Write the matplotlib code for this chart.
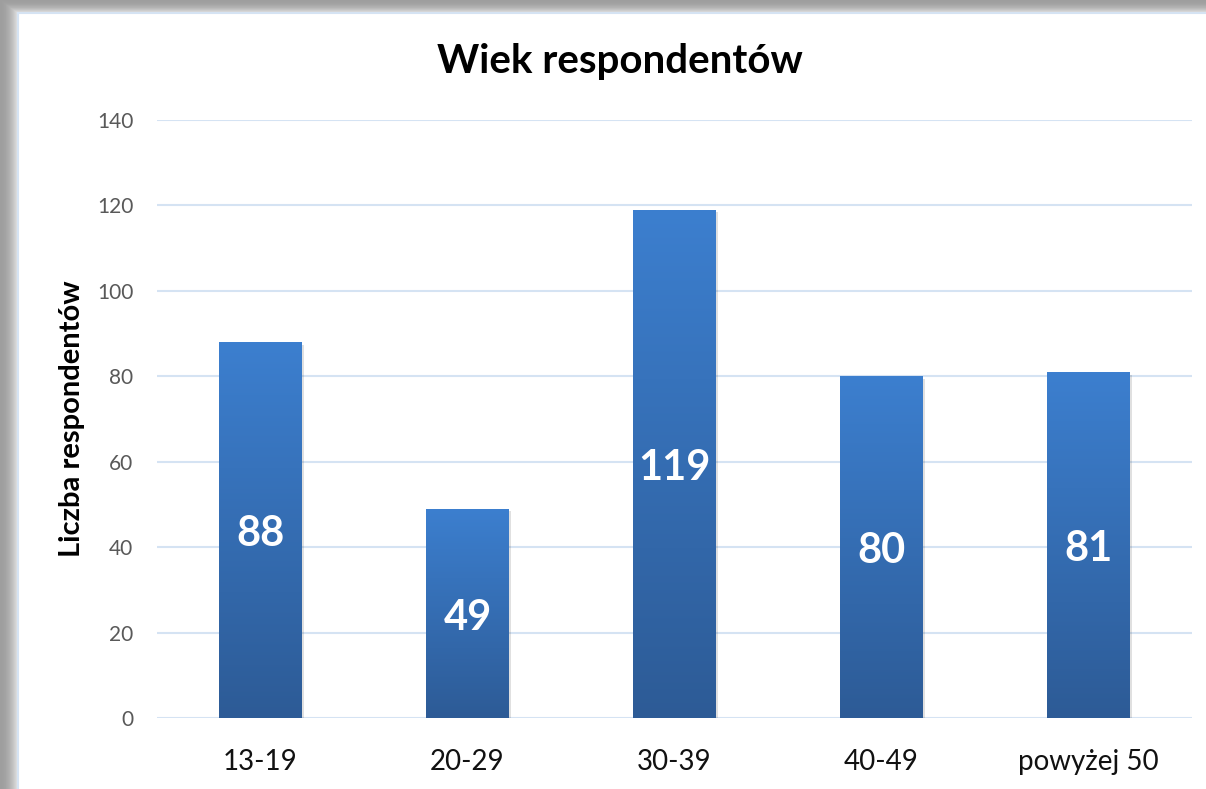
import matplotlib.pyplot as plt
import numpy as np
from matplotlib.colors import LinearSegmentedColormap

plt.rcParams['font.family'] = ['Lato', 'DejaVu Sans']

categories = ['13-19', '20-29', '30-39', '40-49', 'powyżej 50']
values = [88, 49, 119, 80, 81]
yticks = [0, 20, 40, 60, 80, 100, 120, 140]

W, H = 1206, 789
fig = plt.figure(figsize=(W / 100, H / 100), dpi=100)

# drop shadow along left and top edge of the chart panel
bg = fig.add_axes([0, 0, 1, 1])
bg.set_xlim(0, W)
bg.set_ylim(H, 0)
bg.axis('off')
img = np.ones((H, W))
sx, sy = 18, 13
for i in range(sx):
    img[:, i] = np.minimum(img[:, i], 0.62 + 0.3 * (i / sx) ** 2)
for j in range(sy):
    img[j, :] = np.minimum(img[j, :], 0.62 + 0.3 * (j / sy) ** 2)
img[sy:, sx:] = 1.0
bg.imshow(img, cmap='gray', vmin=0, vmax=1, extent=(0, W, H, 0), aspect='auto')
bg.plot([sx, sx], [sy, H], color='#d5e3f3', lw=1.5)
bg.plot([sx, W], [sy, sy], color='#d5e3f3', lw=1.5)

ax = fig.add_axes([157 / W, 1 - 718 / H, (1192 - 157) / W, (718 - 120) / H])
ax.set_facecolor('none')

cmap = LinearSegmentedColormap.from_list('bar', ['#2d5b96', '#3c7fcf'])
grad = np.linspace(0, 1, 256).reshape(-1, 1)
x = np.arange(len(categories))
bars = ax.bar(x, values, width=0.4, color='none', zorder=3)
for b, v in zip(bars, values):
    x0 = b.get_x()
    # soft shadow to the right of each bar
    ax.bar(x0 + b.get_width() / 2 + 0.012, v, width=0.4, bottom=-0.6,
           color='#000000', alpha=0.12, zorder=2, align='center')
    im = ax.imshow(grad, cmap=cmap, extent=(x0, x0 + b.get_width(), 0, v),
                   origin='lower', aspect='auto', zorder=4)
    im.set_clip_path(b)
    ax.text(b.get_x() + b.get_width() / 2, v / 2 - 1, str(v), ha='center', va='center',
            color='white', fontsize=30, fontweight='bold', zorder=5)
ax.set_xlim(-0.5, len(categories) - 0.5)
ax.set_ylim(0, 140)

ax.set_yticks(yticks)
ax.grid(axis='y', color='#d5e3f3', lw=1.5, zorder=0)
ax.set_axisbelow(True)
for s in ax.spines.values():
    s.set_visible(False)
ax.tick_params(axis='both', length=0)
ax.tick_params(axis='y', labelsize=15, labelcolor='#595959', pad=17)
ax.tick_params(axis='x', labelsize=20, labelcolor='#111111', pad=22)
ax.set_xticks(x)
ax.set_xticklabels(categories)
ax.set_ylabel('Liczba respondentów', fontsize=21, fontweight='bold', labelpad=9)

fig.text(620 / W, 1 - 62 / H, 'Wiek respondentów', ha='center', va='center',
         fontsize=29, fontweight='bold')

fig.savefig('out.png', dpi=100)
